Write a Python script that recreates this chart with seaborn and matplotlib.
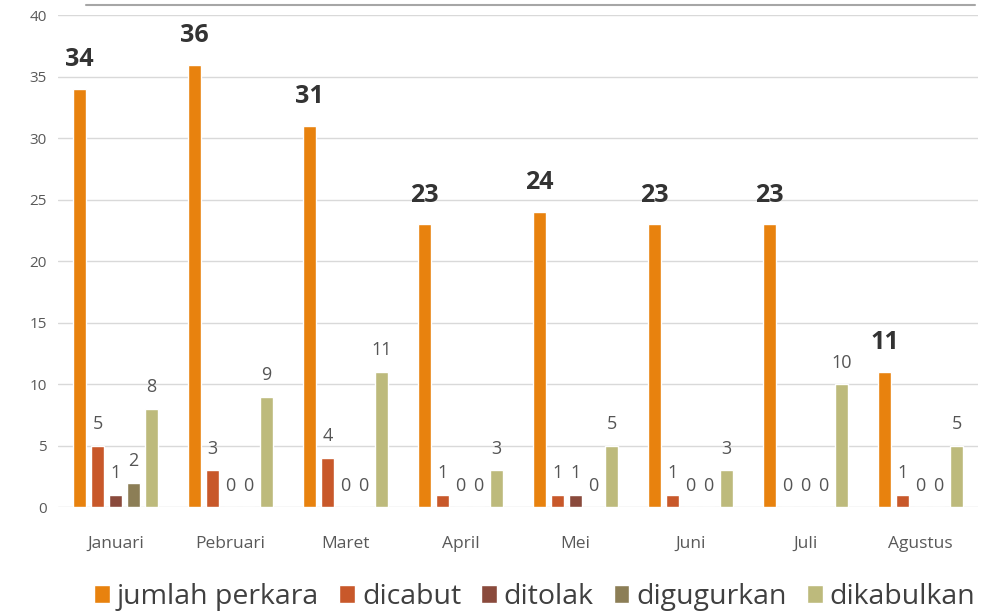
import matplotlib.pyplot as plt
import matplotlib.lines as mlines
import seaborn as sns
import pandas as pd

# data
bulan = ['Januari', 'Pebruari', 'Maret', 'April', 'Mei', 'Juni', 'Juli', 'Agustus']
jumlah_perkara = [34, 36, 31, 23, 24, 23, 23, 11]
dicabut = [5, 3, 4, 1, 1, 1, 0, 1]
ditolak = [1, 0, 0, 0, 1, 0, 0, 0]
digugurkan = [2, 0, 0, 0, 0, 0, 0, 0]
dikabulkan = [8, 9, 11, 3, 5, 3, 10, 5]

series = {
    'jumlah perkara': jumlah_perkara,
    'dicabut': dicabut,
    'ditolak': ditolak,
    'digugurkan': digugurkan,
    'dikabulkan': dikabulkan,
}
colors = ['#E8820E', '#C8582A', '#8A4A3C', '#8C7E56', '#BDBA7C']

rows = []
for name, vals in series.items():
    for b, v in zip(bulan, vals):
        rows.append({'bulan': b, 'nilai': v, 'kategori': name})
df = pd.DataFrame(rows)

sns.set_style('white')
plt.rcParams['font.family'] = ['Open Sans', 'DejaVu Sans']

fig = plt.figure(figsize=(9.85, 6.14), dpi=100)
ax = fig.add_axes([0.059, 0.174, 0.934, 0.801])

sns.barplot(data=df, x='bulan', y='nilai', hue='kategori', palette=colors,
            width=0.78, gap=0.25, saturation=1, ax=ax, legend=True)

ax.set_ylim(0, 40)
ax.set_yticks(range(0, 41, 5))
ax.set_xlim(-0.5, len(bulan) - 0.5)
ax.yaxis.grid(True, color='#d9d9d9', linewidth=1)
ax.set_axisbelow(True)
for s in ax.spines.values():
    s.set_visible(False)
ax.set_xlabel('')
ax.set_ylabel('')
ax.tick_params(axis='y', labelsize=11, colors='#595959', length=0, pad=8)
ax.tick_params(axis='x', labelsize=12.5, colors='#595959', length=0, pad=21)

# bold totals above the orange bars, plain numbers above the rest
for i, cont in enumerate(ax.containers):
    if i == 0:
        ax.bar_label(cont, fmt='%d', padding=12, fontsize=18, fontweight='bold', color='#333333')
    else:
        ax.bar_label(cont, fmt='%d', padding=9, fontsize=13, color='#555555')

ax.get_legend().remove()
handles, labels = ax.get_legend_handles_labels()
fig.legend(handles[:5], labels[:5], loc='center', bbox_to_anchor=(0.543, 0.028), ncol=5,
           frameon=False, fontsize=20.5, handlelength=0.55, handleheight=0.6,
           handletextpad=0.25, columnspacing=0.7, labelcolor='#404040')

# thin border line seen at the very top of the picture
fig.add_artist(mlines.Line2D([0.087, 0.99], [0.992, 0.992], color='#a6a6a6', linewidth=1.5))

fig.savefig('out.png', dpi=100)
